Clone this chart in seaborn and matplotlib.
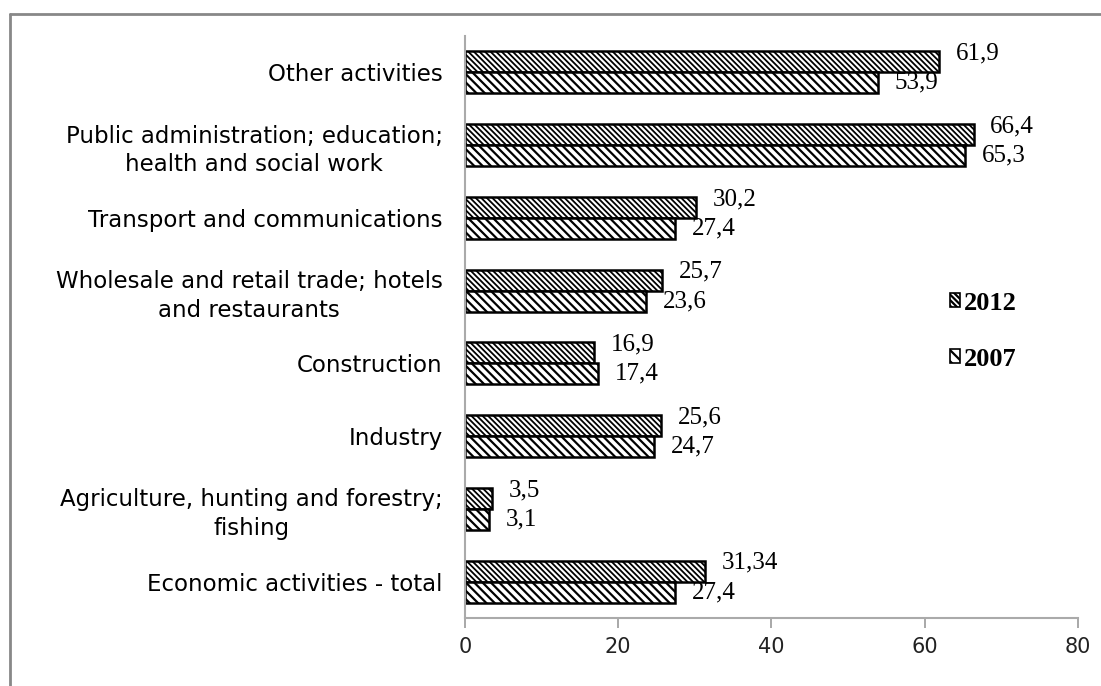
import numpy as np
import pandas as pd
import seaborn as sns
import matplotlib.pyplot as plt
from matplotlib.lines import Line2D

categories = [
    'Other activities',
    'Public administration; education;\nhealth and social work',
    'Transport and communications',
    'Wholesale and retail trade; hotels\nand restaurants',
    'Construction',
    'Industry',
    'Agriculture, hunting and forestry;\nfishing',
    'Economic activities - total',
]
v2012 = [61.9, 66.4, 30.2, 25.7, 16.9, 25.6, 3.5, 31.34]
v2007 = [53.9, 65.3, 27.4, 23.6, 17.4, 24.7, 3.1, 27.4]
years = ['2012', '2007']
xticks = [0, 20, 40, 60, 80]

sns.set_style('white')
plt.rcParams['font.family'] = ['DejaVu Sans']
plt.rcParams['hatch.linewidth'] = 1.6
plt.rcParams['text.color'] = 'black'

df = pd.DataFrame({
    'activity': categories * 2,
    'value': v2012 + v2007,
    'year': ['2012'] * len(categories) + ['2007'] * len(categories),
})

fig = plt.figure(figsize=(11.01, 6.86), dpi=100)
ax = fig.add_axes([0.4223, 0.0991, 0.5567, 0.8484])

sns.barplot(data=df, y='activity', x='value', hue='year', hue_order=years,
            order=categories, orient='h', width=0.58, ax=ax, legend=True)

hatches = ['\\' * 6, '\\' * 4]
hatch_lw = [1.3, 1.6]
for cont, h, hl in zip(ax.containers, hatches, hatch_lw):
    for bar in cont:
        bar.set_facecolor('white')
        bar.set_edgecolor('black')
        bar.set_linewidth(1.8)
        bar.set_hatch(h)
        if hasattr(bar, 'set_hatch_linewidth'):
            bar.set_hatch_linewidth(hl)

# value labels
for i, cont in enumerate(ax.containers):
    vals = v2012 if i == 0 else v2007
    dy = 6 if i == 0 else 0
    for bar, v in zip(cont, vals):
        txt = f'{v:g}'.replace('.', ',')
        ax.annotate(txt, (bar.get_width(), bar.get_y() + bar.get_height() / 2),
                    xytext=(12, dy), textcoords='offset points',
                    ha='left', va='center', fontsize=18,
                    family='Liberation Serif', color='black')

ax.set_xlim(0, 80)
ax.set_ylim(len(categories) - 0.5, -0.5)
ax.set_xticks(xticks)
ax.set_xticklabels([str(t) for t in xticks], fontsize=15, color='#222222')
ax.set_xlabel('')
ax.set_ylabel('')
ax.tick_params(axis='x', length=7, width=1.2, color='#999999', direction='out',
               bottom=True, pad=7)
ax.tick_params(axis='y', length=0, pad=16)
for lab in ax.get_yticklabels():
    lab.set_fontsize(16.5)
    lab.set_color('black')
    lab.set_multialignment('center')
    lab.set_linespacing(1.3)

for s in ['top', 'right']:
    ax.spines[s].set_visible(False)
for s in ['left', 'bottom']:
    ax.spines[s].set_color('#aaaaaa')
    ax.spines[s].set_linewidth(1.5)

leg = ax.legend(loc='center left', bbox_to_anchor=(0.752, 0.493), frameon=False,
                handlelength=0.4, handleheight=0.4, handletextpad=0.15,
                labelspacing=1.25, prop={'family': 'Liberation Serif',
                                         'weight': 'bold', 'size': 19})
for hnd, h in zip(leg.legend_handles, ['\\' * 6, '\\' * 3]):
    hnd.set_facecolor('white')
    hnd.set_edgecolor('black')
    hnd.set_linewidth(1.2)
    hnd.set_hatch(h)
for t in leg.get_texts():
    t.set_color('black')

# outer frame
fig.add_artist(Line2D([10 / 1101, 1], [1 - 14 / 686, 1 - 14 / 686],
                      transform=fig.transFigure, color='#888888', lw=2))
fig.add_artist(Line2D([10 / 1101, 10 / 1101], [0, 1 - 14 / 686],
                      transform=fig.transFigure, color='#888888', lw=2))

fig.savefig('out.png', dpi=100)
